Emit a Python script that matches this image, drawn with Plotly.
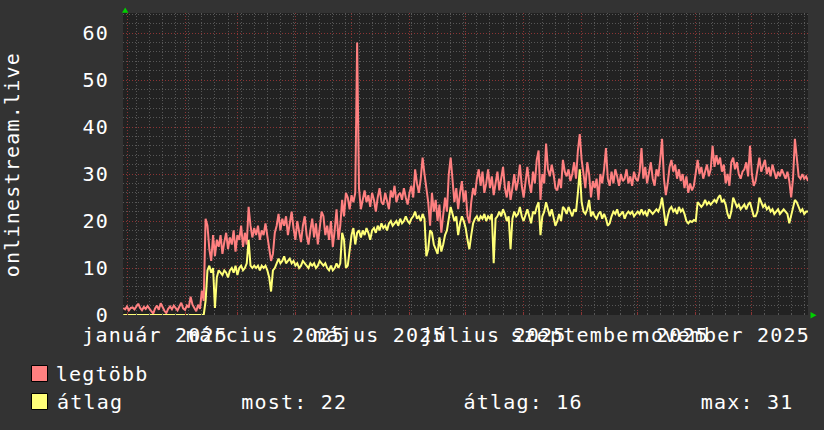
import pandas as pd
import plotly.graph_objects as go

# ---------------- data ----------------
start_date = "2024-12-30"   # first daily sample

# "legtöbb" (maximum) daily values
legtobb = [
    # 30 Dec - 11 Feb
    1.5, 1.2, 1.8, 1.0, 1.5, 1.6, 1.2, 1.8, 2.4, 1.5,
    1.0, 1.7, 1.3, 1.9, 1.2, 0.8, 0.3, 1.4, 2.0, 1.1,
    2.5, 1.6, 0.9, 0.4, 1.3, 1.8, 1.2, 2.0, 1.5, 1.0,
    1.8, 2.6, 1.4, 1.1, 2.0, 1.6, 3.9, 2.2, 1.5, 0.8,
    2.2, 1.3, 5.2, 3.0,
    # 12 Feb - 30 Mar
    20.5, 19.0, 14.0, 11.5, 17.0, 12.5, 16.0, 14.5, 17.0, 13.0,
    15.5, 17.5, 14.0, 16.5, 15.0, 18.0, 13.5, 17.0, 16.0, 19.0,
    14.5, 17.5, 15.0, 23.0, 19.0, 16.5, 18.5, 17.0, 19.0, 16.0,
    18.0, 17.0, 19.5, 16.5, 14.0, 11.5, 13.0, 17.5, 19.0, 21.5,
    18.0, 20.5, 19.0, 21.0, 17.0, 20.0, 22.0, 18.5,
    # 31 Mar - 23 Apr
    16.0, 20.0, 17.5, 15.5, 19.0, 21.0, 17.0, 15.0, 18.0, 20.5,
    16.5, 19.5, 15.0, 18.5, 22.0, 21.0, 17.0, 19.0, 16.0, 20.0,
    14.5, 18.0, 22.5, 16.0,
    # 24 Apr - 10 Jun
    19.0, 24.5, 21.0, 26.0, 25.0, 22.5, 25.5, 24.0, 26.0, 58.0,
    27.0, 22.5, 25.0, 26.5, 24.0, 25.5, 23.0, 26.0, 24.5, 22.0,
    25.0, 27.0, 24.0, 23.5, 26.0, 24.5, 22.5, 26.5, 25.0, 27.5,
    24.0, 25.5, 26.0, 24.5, 27.0, 25.0, 23.5, 26.0, 27.5, 25.0,
    31.0, 28.0, 26.0, 29.0, 33.5, 30.0, 27.0,
    # 11 Jun - 25 Jul
    24.0, 19.0, 26.0, 22.0, 24.5, 20.0, 23.5, 17.5, 21.0, 25.0,
    22.0, 30.0, 33.5, 28.0, 24.0, 27.0, 22.5, 26.0, 28.5, 24.0,
    26.5, 21.0, 19.5, 24.0, 27.0, 25.5, 29.0, 31.0, 27.5, 30.5,
    26.0, 28.0, 31.0, 27.0, 29.5, 25.5, 28.0, 30.5, 26.5, 29.0,
    31.5, 27.0, 25.0, 28.5, 24.5,
    # 26 Jul - 31 Aug
    27.0, 30.0, 26.5, 28.5, 32.0, 27.5, 25.0, 29.0, 31.5, 28.0,
    26.0, 30.5, 28.0, 33.0, 35.0, 24.5, 30.0, 28.0, 36.5, 31.0,
    29.5, 32.0, 30.0, 27.0, 26.5, 29.0, 27.0, 33.0, 30.5, 29.5,
    31.0, 28.5, 30.0, 32.5, 29.0, 35.0, 38.5,
    # 1 Sep - 1 Nov
    33.0, 29.5, 27.0, 32.5, 30.0, 25.0, 28.5, 27.0, 29.0, 24.5,
    30.0, 28.0, 31.0, 35.5, 29.0, 27.5, 30.5, 28.0, 31.0, 29.5,
    27.5, 30.0, 28.5, 29.0, 31.0, 28.0, 29.5, 27.5, 30.5, 29.0,
    28.5, 30.5, 35.5, 29.0, 31.5, 28.0, 30.0, 32.5, 29.0, 27.5,
    31.0, 29.5, 33.0, 37.5, 29.0, 25.5, 28.0, 31.5, 33.0, 30.5,
    32.0, 29.0, 31.0, 28.5, 30.0, 27.0, 29.5, 26.0, 28.0, 26.5,
    27.5, 30.0,
    # 2 Nov - 31 Dec
    33.0, 30.0, 31.5, 29.0, 30.5, 32.0, 29.5, 31.0, 36.0, 31.5,
    34.0, 32.0, 33.5, 30.5, 32.0, 28.0, 30.0, 27.5, 32.5, 33.5,
    31.0, 32.5, 30.0, 29.0, 30.5, 31.0, 32.5, 29.5, 36.0, 30.0,
    27.5, 28.5, 31.0, 33.5, 30.5, 32.0, 33.0, 30.0, 31.5, 29.5,
    32.0, 30.5, 29.0, 30.5, 29.5, 31.0, 30.0, 29.0, 30.5, 28.5,
    25.0, 29.0, 37.5, 33.0, 29.5, 29.0, 30.0, 29.0, 29.5, 28.5,
]

# "átlag" (average) daily values
atlag = [
    # 30 Dec - 11 Feb
    0, 0, 0, 0, 0, 0, 0, 0, 0, 0,
    0, 0, 0, 0, 0, 0, 0, 0, 0, 0,
    0, 0, 0, 0, 0, 0, 0, 0, 0, 0,
    0, 0, 0, 0, 0, 0, 0, 0, 0, 0,
    0, 0, 0, 0,
    # 12 Feb - 30 Mar
    3.0, 9.5, 10.5, 9.0, 10.0, 1.5, 8.0, 9.5, 9.0, 8.5,
    9.5, 9.0, 8.0, 9.5, 10.0, 9.0, 10.5, 8.5, 10.0, 10.5,
    9.5, 10.0, 11.0, 16.0, 10.5, 10.0, 10.5, 10.0, 10.5, 9.5,
    10.5, 10.0, 10.5, 9.5, 8.0, 5.0, 9.5, 10.0, 11.0, 12.0,
    11.0, 11.5, 12.5, 11.0, 11.5, 12.0, 11.0, 11.5,
    # 31 Mar - 23 Apr
    10.5, 11.0, 10.0, 10.5, 11.5, 11.0, 10.5, 10.0, 11.0, 10.5,
    11.0, 10.0, 10.5, 11.5, 11.0, 10.5, 11.0, 10.0, 9.5, 10.5,
    9.5, 10.0, 11.0, 10.0,
    # 24 Apr - 10 Jun
    11.0, 17.5, 16.0, 10.0, 10.5, 14.5, 17.0, 18.5, 15.0, 17.5,
    18.0, 16.5, 18.0, 17.0, 18.5, 17.5, 16.0, 18.0, 18.5, 17.5,
    19.0, 18.0, 19.5, 18.5, 19.0, 18.0, 19.5, 20.0, 19.0, 19.5,
    20.0, 19.0, 20.5, 19.5, 20.0, 21.0, 20.0, 19.5, 20.5, 21.0,
    22.0, 20.5, 21.0, 20.0, 21.5, 20.5, 12.5,
    # 11 Jun - 25 Jul
    14.0, 18.0, 17.5, 15.0, 14.0, 13.0, 16.5, 13.5, 15.0, 17.0,
    18.0, 21.0, 23.0, 21.5, 20.0, 21.0, 17.0, 19.5, 21.0, 20.0,
    18.5, 16.0, 14.0, 17.0, 19.5, 20.5, 21.0, 20.0, 21.0, 20.5,
    21.5, 20.0, 21.0, 20.5, 21.5, 11.0, 20.5, 21.0, 22.0, 21.0,
    22.5, 21.5, 20.0, 21.0, 14.0,
    # 26 Jul - 31 Aug
    20.5, 22.0, 21.0, 21.5, 23.0, 21.0, 20.0, 21.5, 22.5, 21.0,
    19.5, 22.0, 21.5, 23.0, 24.0, 17.0, 21.0, 22.0, 24.0, 22.5,
    21.0, 22.5, 20.5, 19.0, 20.0, 21.5, 20.0, 23.0, 22.5, 21.5,
    23.0, 22.0, 21.0, 22.5, 22.0, 26.0, 31.0,
    # 1 Sep - 1 Nov
    24.0, 22.0, 21.5, 22.5, 24.5, 21.0, 22.0, 21.0, 20.5, 21.5,
    22.0, 20.5, 21.5, 20.5, 19.0, 19.5, 21.0, 22.0, 21.5, 22.5,
    21.0, 21.5, 22.0, 20.5, 21.5, 22.0, 21.5, 22.0, 21.0, 21.5,
    22.0, 21.5, 22.5, 21.5, 22.0, 21.0, 22.5, 22.0, 21.5, 22.0,
    22.5, 22.0, 23.0, 25.0, 22.0, 19.0, 21.0, 22.5, 23.0, 22.0,
    22.5, 21.5, 23.0, 22.0, 22.5, 21.5, 20.0, 19.5, 20.0, 19.8,
    20.2, 20.0,
    # 2 Nov - 31 Dec
    24.0, 23.5, 23.0, 23.5, 24.5, 23.5, 24.0, 23.5, 24.0, 24.5,
    24.0, 25.0, 25.5, 24.0, 24.5, 23.5, 21.5, 20.5, 22.0, 25.0,
    24.0, 23.0, 23.5, 22.5, 23.0, 23.5, 22.5, 23.5, 24.0, 22.5,
    21.0, 21.0, 22.0, 25.0, 24.0, 23.0, 23.5, 22.5, 23.0, 22.0,
    22.5, 21.5, 22.0, 22.5, 21.5, 22.0, 22.5, 22.0, 21.5, 19.5,
    21.0, 22.5, 24.5, 24.0, 23.0, 22.0, 22.5, 21.5, 22.0, 22.0,
]

series_names = ["legtöbb", "átlag"]
y_tick_values = [0, 10, 20, 30, 40, 50, 60]
x_label_dates = ["2025-01-16", "2025-03-16", "2025-05-16",
                 "2025-07-16", "2025-09-16", "2025-11-16"]
x_label_text = ["január 2025", "március 2025", "május 2025",
                "július 2025", "szeptember 2025", "november 2025"]
y_title = "onlinestream.live"

# ---------------- styling ----------------
FONT = "DejaVu Sans Mono"
FS = 20
TXT = "#ffffff"
PINK = "#ff8080"
YELLOW = "#ffff78"
MAJOR = "#8c3434"
MINOR = "#575757"
W, H = 824, 430
L, R, T, B = 123, 16, 13, 115
PW, PH = W - L - R, H - T - B

def px(x):
    return (x - L) / PW

def py(y):
    return (H - B - y) / PH

n = min(len(legtobb), len(atlag))
dates = pd.date_range(start_date, periods=n, freq="D")
month_starts = pd.date_range("2025-01-01", periods=13, freq="MS")
x_range = ["2024-12-29 20:30", "2025-12-31 00:00"]

fig = go.Figure()
fig.add_trace(go.Scatter(x=dates, y=legtobb[:n], mode="lines", name=series_names[0],
                         line=dict(color=PINK, width=2), showlegend=False))
fig.add_trace(go.Scatter(x=dates, y=atlag[:n], mode="lines", name=series_names[1],
                         line=dict(color=YELLOW, width=2), showlegend=False))

fig.update_layout(
    width=W, height=H,
    margin=dict(l=L, r=R, t=T, b=B, autoexpand=False),
    paper_bgcolor="#333333",
    plot_bgcolor="#222222",
    font=dict(family=FONT, size=FS, color=TXT),
    showlegend=False,
    xaxis=dict(
        type="date", range=x_range, automargin=False,
        tickvals=x_label_dates, ticktext=x_label_text, tickangle=0,
        showgrid=False, zeroline=False, showline=False,
        ticks="outside", ticklen=2, tickcolor="rgba(0,0,0,0)",
        tickfont=dict(family=FONT, size=FS, color=TXT),
    ),
    xaxis2=dict(
        type="date", range=x_range, overlaying="x", anchor="y", automargin=False,
        tickvals=list(month_starts), showticklabels=False,
        showgrid=True, gridcolor=MAJOR, griddash="1px,2px", gridwidth=1,
        ticks="inside", ticklen=3, tickcolor=MAJOR,
        minor=dict(dtick=7 * 86400000, tick0="2025-01-06", showgrid=True,
                   gridcolor=MINOR, griddash="1px,2px", gridwidth=1,
                   ticks="inside", ticklen=2, tickcolor=MINOR),
        zeroline=False, showline=False,
    ),
    yaxis=dict(
        range=[0, 64.26], tickvals=y_tick_values, automargin=False,
        showgrid=True, gridcolor=MAJOR, griddash="1px,2px", gridwidth=1,
        minor=dict(dtick=2, showgrid=True, gridcolor=MINOR, griddash="1px,2px",
                   gridwidth=1),
        zeroline=False, showline=False,
        ticks="outside", ticklen=9, tickcolor="rgba(0,0,0,0)",
        tickfont=dict(family=FONT, size=FS, color=TXT),
    ),
)
# invisible trace so xaxis2 (grid) is drawn
fig.add_trace(go.Scatter(x=[dates[0]], y=[0], xaxis="x2", mode="markers",
                         marker=dict(opacity=0), hoverinfo="skip", showlegend=False))

# axis arrows
fig.add_shape(type="path", xref="paper", yref="paper",
              path=f"M {px(122)} {py(12.8)} L {px(128.4)} {py(12.8)} L {px(125.2)} {py(7.5)} Z",
              fillcolor="#00d000", line=dict(width=0))
fig.add_shape(type="path", xref="paper", yref="paper",
              path=f"M {px(810.5)} {py(312)} L {px(810.5)} {py(318.5)} L {px(816.5)} {py(315.2)} Z",
              fillcolor="#00d000", line=dict(width=0))

# y-axis title
fig.add_annotation(text=y_title, xref="paper", yref="paper", x=px(12), y=0.5,
                   textangle=-90, showarrow=False, xanchor="center", yanchor="middle",
                   font=dict(family=FONT, size=FS, color=TXT))

# legend (rrdtool style)
now_val = atlag[n - 1]
avg_val = sum(atlag[:n]) / n
max_val = max(atlag[:n])
legend_rows = [(series_names[0], PINK, 373.5, None),
               (series_names[1], YELLOW, 401.5,
                [f"most: {now_val:.0f}", f"átlag: {avg_val:.0f}", f"max: {max_val:.0f}"])]
for name, col, yc, stats in legend_rows:
    fig.add_shape(type="rect", xref="paper", yref="paper",
                  x0=px(31.5), x1=px(47.5), y0=py(yc - 8), y1=py(yc + 8),
                  fillcolor=col, line=dict(color="#000000", width=1))
    fig.add_annotation(text=name, xref="paper", yref="paper", x=px(57.5), y=py(yc),
                       xanchor="left", yanchor="middle", showarrow=False,
                       font=dict(family=FONT, size=FS, color=TXT))
    if stats:
        for s, xs in zip(stats, [244, 467, 703]):
            fig.add_annotation(text=s, xref="paper", yref="paper", x=px(xs), y=py(yc),
                               xanchor="left", yanchor="middle", showarrow=False,
                               font=dict(family=FONT, size=FS, color=TXT))

post = (
    "document.body.style.margin='0';"
    "var s=document.createElement('style');"
    "s.innerHTML='svg text{letter-spacing:1.2px !important;}';"
    "document.head.appendChild(s);"
    "Plotly.redraw('{plot_id}');"
)
fig.write_html("out.html", config={"displayModeBar": False}, post_script=post)
